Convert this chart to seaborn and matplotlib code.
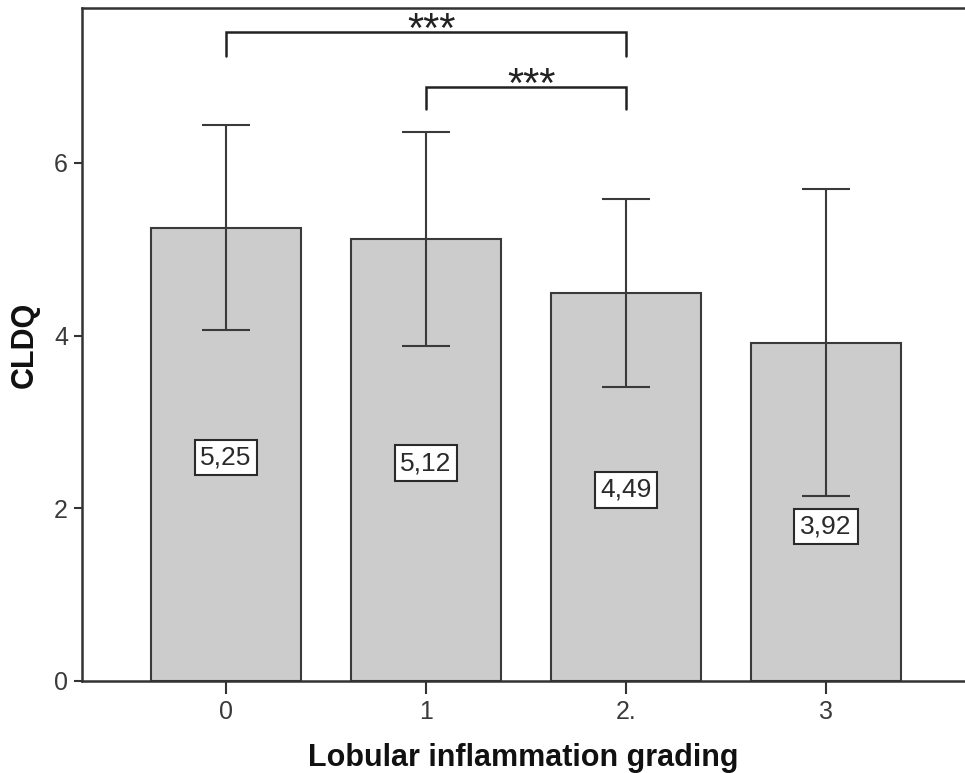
import matplotlib
matplotlib.use("Agg")
import matplotlib.pyplot as plt
import seaborn as sns
import pandas as pd
import numpy as np

# ---- data ----
categories = ["0", "1", "2.", "3"]
means = [5.25, 5.12, 4.49, 3.92]
err_half = [1.19, 1.24, 1.09, 1.78]   # half length of error bars
value_labels = ["5,25", "5,12", "4,49", "3,92"]
comparisons = [(0, 2, "***"), (1, 2, "***")]

sns.set_theme(style="white")
plt.rcParams["font.family"] = ["Liberation Sans", "DejaVu Sans"]

df = pd.DataFrame({"grade": categories, "CLDQ": means})

fig = plt.figure(figsize=(9.65, 7.73), dpi=100)
W, H = 965, 773
ax = fig.add_axes([82 / W, (H - 681) / H, (W - 82) / W, (681 - 8) / H])

sns.barplot(data=df, x="grade", y="CLDQ", order=categories, color="#cccccc",
            saturation=1, width=0.75, edgecolor="#3a3a3a", linewidth=1.5,
            errorbar=None, ax=ax)

xs = np.arange(len(categories))
ax.errorbar(xs, means, yerr=err_half, fmt="none", ecolor="#3a3a3a",
            elinewidth=1.5, capsize=17, capthick=1.5, zorder=3)

# value labels in boxes
for x, m, e, lab in zip(xs, means, err_half, value_labels):
    ly = min(m * 0.493, (m - e) - 0.35)
    ax.text(x, ly, lab, ha="center", va="center", fontsize=19, color="#2a2a2a",
            bbox=dict(boxstyle="square,pad=0.22", fc="white", ec="#2a2a2a", lw=1.5),
            zorder=4)

# significance brackets
bracket_levels = [(7.52, 7.24), (6.88, 6.62)]
for (a, b, txt), (top, low) in zip(comparisons, bracket_levels):
    ax.plot([a, a, b, b], [low, top, top, low], color="#222222", lw=1.8,
            solid_joinstyle="miter", clip_on=False, zorder=3)
    ax.text((a + b) / 2 + 0.03, top - 0.12, txt, ha="center", va="baseline",
            fontsize=30, color="#222222")

ax.set_xlim(-0.72, 3.695)
ax.set_ylim(0, 7.794)
ax.set_yticks([0, 2, 4, 6])
ax.set_yticklabels(["0", "2", "4", "6"])

for s in ["left", "top", "bottom"]:
    ax.spines[s].set_visible(True)
    ax.spines[s].set_color("#333333")
    ax.spines[s].set_linewidth(1.8)
ax.spines["right"].set_visible(False)

ax.tick_params(axis="x", length=9.5, width=1.5, color="#333333", labelsize=18,
               labelcolor="#3a3a3a", pad=4, bottom=True)
ax.tick_params(axis="y", length=6, width=1.5, color="#333333", labelsize=18,
               labelcolor="#3a3a3a", pad=4, left=True)

ax.set_xlabel("Lobular inflammation grading", fontsize=22, fontweight="bold",
              color="#111111", labelpad=14)
ax.set_ylabel("CLDQ", fontsize=22, fontweight="bold", color="#111111", labelpad=10)
ax.grid(False)

fig.savefig("out.png", dpi=100)
